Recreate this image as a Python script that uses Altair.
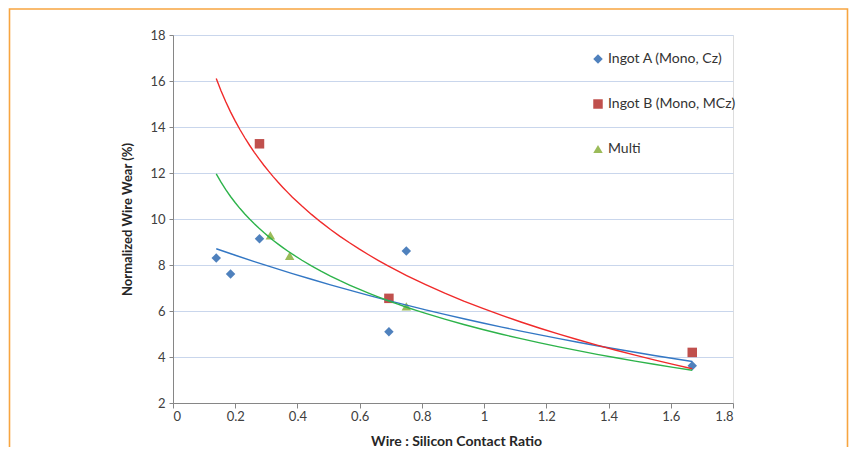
import altair as alt
import pandas as pd

series_names = ["Ingot A (Mono, Cz)", "Ingot B (Mono, MCz)", "Multi"]

ingot_a_x = [0.139, 0.185, 0.278, 0.694, 0.750, 1.669]
ingot_a_y = [8.30, 7.61, 9.14, 5.10, 8.61, 3.62]

ingot_b_x = [0.278, 0.694, 1.669]
ingot_b_y = [13.27, 6.55, 4.20]

multi_x = [0.313, 0.375, 0.750]
multi_y = [9.29, 8.40, 6.20]

x_ticks = [0, 0.2, 0.4, 0.6, 0.8, 1.0, 1.2, 1.4, 1.6, 1.8]
y_ticks = [2, 4, 6, 8, 10, 12, 14, 16, 18]

marker_colors = ["#4F81BD", "#C0504D", "#9BBB59"]
line_colors = ["#3377C4", "#F02A2A", "#2DB34A"]

rows = []
for name, xs, ys in zip(series_names, [ingot_a_x, ingot_b_x, multi_x], [ingot_a_y, ingot_b_y, multi_y]):
    for xv, yv in zip(xs, ys):
        rows.append({"series": name, "ratio": xv, "wear": yv})
df = pd.DataFrame(rows)
x_extent = [float(df["ratio"].min()), float(df["ratio"].max())]

FONT = "Lato"
xscale = alt.Scale(domain=[0, 1.8], nice=False, zero=False)
yscale = alt.Scale(domain=[2, 18], nice=False, zero=False)

x_axis = alt.Axis(
    values=x_ticks, format="~g", grid=False, title="Wire : Silicon Contact Ratio",
    domainColor="#868686", tickColor="#868686", tickSize=5, labelPadding=2,
    labelFont=FONT, labelFontSize=13, labelColor="#404040",
    titleFont=FONT, titleFontSize=14, titleFontWeight="bold", titleColor="#262626",
    titleX=283, titleY=38, titleBaseline="middle", titleAlign="center",
)
y_axis = alt.Axis(
    values=y_ticks, grid=True, gridColor="#C9D6EC", gridWidth=1, title="Normalized Wire Wear (%)",
    domainColor="#868686", tickColor="#868686", tickSize=4, labelPadding=4,
    labelFont=FONT, labelFontSize=13, labelColor="#404040",
    titleFont=FONT, titleFontSize=13, titleFontWeight="bold", titleColor="#262626",
    titleX=-46, titleY=184, titleAngle=-90, titleBaseline="middle", titleAlign="center",
)

legend = alt.Legend(
    title=None, orient="none", legendX=418, legendY=17, padding=0,
    rowPadding=31, symbolSize=90, labelOffset=3,
    labelFont=FONT, labelFontSize=14, labelColor="#333333",
)

base = alt.Chart(df)

points = base.mark_point(filled=True, opacity=1, size=90).encode(
    x=alt.X("ratio:Q", scale=xscale, axis=x_axis),
    y=alt.Y("wear:Q", scale=yscale, axis=y_axis),
    color=alt.Color("series:N", scale=alt.Scale(domain=series_names, range=marker_colors), legend=legend),
    shape=alt.Shape("series:N", scale=alt.Scale(domain=series_names, range=["diamond", "square", "triangle-up"]), legend=legend),
)

# Ingot A: exponential trendline (least squares on ln y, as in a spreadsheet)
trend_a = (
    base.transform_filter(alt.datum.series == series_names[0])
    .transform_calculate(lnwear="log(datum.wear)")
    .transform_regression("ratio", "lnwear", method="poly", order=1, extent=x_extent)
    .transform_calculate(wear="exp(datum.lnwear)")
    .mark_line(color=line_colors[0], strokeWidth=1.4)
    .encode(x=alt.X("ratio:Q", scale=xscale), y=alt.Y("wear:Q", scale=yscale))
)
# Ingot B and Multi: logarithmic trendlines
trend_layers = [trend_a]
for name, col in zip(series_names[1:], line_colors[1:]):
    trend_layers.append(
        base.transform_filter(alt.datum.series == name)
        .transform_regression("ratio", "wear", method="log", extent=x_extent)
        .mark_line(color=col, strokeWidth=1.4)
        .encode(x=alt.X("ratio:Q", scale=xscale), y=alt.Y("wear:Q", scale=yscale))
    )

border = alt.Chart(pd.DataFrame({"k": [0]})).mark_rect(
    fill="transparent", stroke="#F7A540", strokeWidth=1.6, clip=False
).encode(x=alt.value(-163.5), x2=alt.value(674.5), y=alt.value(-26), y2=alt.value(470))

chart = alt.layer(border, points, *trend_layers).properties(
    width=560, height=368,
    padding={"left": 165, "top": 27, "right": 116, "bottom": 44},
    autosize=alt.AutoSizeParams(type="none"),
).configure_view(stroke=None).configure(background="white")

chart.save("out.html", embed_options={"renderer": "svg", "actions": False})
